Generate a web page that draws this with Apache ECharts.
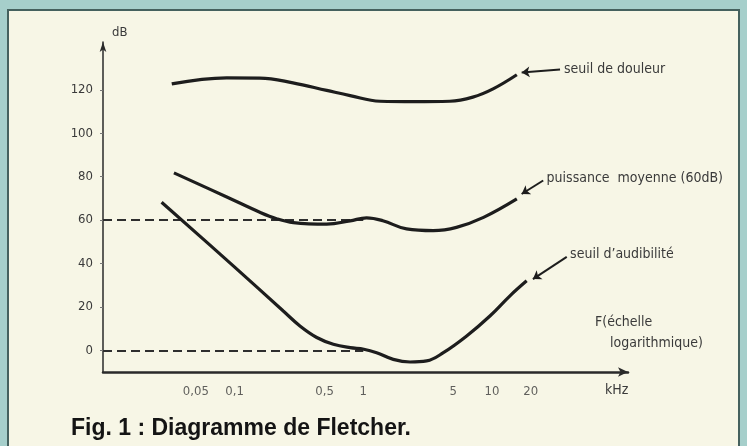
<!DOCTYPE html>
<html>
<head>
<meta charset="utf-8">
<script src="https://cdn.jsdelivr.net/npm/echarts@6/dist/echarts.min.js"></script>
<style>
  html, body { margin: 0; padding: 0; }
  #chart { width: 747px; height: 446px; }
</style>
</head>
<body>
<div id="chart"></div>
<script>
// Fletcher diagram: sound level (dB) against frequency (kHz, log scale)

// frequency axis range (kHz) and level axis range (dB)
const freqMin = 0.0095;
const freqMax = 114;
const dbMin = -10;
const dbMax = 142;

// tick labels
const xTickValues = [0.05, 0.1, 0.5, 1, 5, 10, 20];
const xTickLabels = ['0,05', '0,1', '0,5', '1', '5', '10', '20'];
const yTickValues = [0, 20, 40, 60, 80, 100, 120];

// seuil de douleur
const painFreq = [0.0325, 0.0868, 0.157, 0.284, 0.52, 0.79, 1.35, 2.5, 4.7, 7.1, 10.2, 15.6];
const painDb   = [122.7, 125.5, 125.4, 123.2, 119.7, 117.3, 114.7, 114.5, 114.7, 116.6, 120.4, 126.9];

// puissance moyenne (60 dB)
const speechFreq = [0.0338, 0.087, 0.157, 0.212, 0.286, 0.52, 0.79, 1.06, 1.42, 2.17, 3.5, 5.3, 8.6, 15.6];
const speechDb   = [81.7, 70.6, 63.6, 60.6, 58.8, 58.1, 59.6, 61.0, 59.7, 55.9, 55.1, 56.6, 61.2, 69.7];

// seuil d'audibilité
const hearFreq = [0.0271, 0.0977, 0.239, 0.322, 0.435, 0.585, 0.79, 1.01, 1.27, 1.71, 2.31, 3.11, 4.19, 6.36, 9.64, 13.8, 18.6];
const hearDb   = [68.2, 38.9, 18.1, 11.2, 5.9, 2.8, 1.2, 0.5, -1.1, -4.2, -5.4, -4.9, -1.1, 6.6, 15.8, 25.1, 32.0];

// curve names and their pointer arrows [from (near curve), to (near text)]
const curveNames = ['seuil de douleur', 'puissance  moyenne (60dB)', 'seuil d\u2019audibilit\u00e9'];
const pointerFrom = [[17.0, 128.0], [17.0, 72.0], [20.8, 32.8]];
const pointerTo   = [[33.8, 129.3], [25.0, 78.2], [38.1, 43.0]];

// 60 dB at 1 kHz and 0 dB at 1 kHz reference marks
const refFreq = 1;
const refLevels = [60, 0];

const zip = (xs, ys) => xs.map((x, i) => [x, ys[i]]);

const ink = '#1d1d1d';
const textInk = '#3a3a3a';
const letterFont = "'DejaVu Sans Condensed', 'Liberation Sans Narrow', 'DejaVu Sans', sans-serif";

function curve(name, xs, ys, idx) {
  return {
    type: 'line',
    name: name,
    data: zip(xs, ys),
    smooth: 0.4,
    showSymbol: false,
    lineStyle: { color: ink, width: 3.2 },
    z: 5,
    markLine: {
      silent: true,
      animation: false,
      symbol: ['arrow', 'none'],
      symbolSize: 8,
      lineStyle: { color: ink, width: 2, type: 'solid' },
      label: {
        show: true,
        position: 'end',
        distance: 4,
        formatter: curveNames[idx],
        color: textInk,
        fontSize: 14,
        fontFamily: letterFont
      },
      data: [[{ coord: pointerFrom[idx] }, { coord: pointerTo[idx] }]]
    }
  };
}

const chart = echarts.init(document.getElementById('chart'), null, { renderer: 'canvas' });

chart.setOption({
  animation: false,
  backgroundColor: '#a6cfcb',
  grid: { left: 103, right: 119, top: 42, bottom: 74 },
  xAxis: {
    type: 'log',
    logBase: 10,
    min: freqMin,
    max: freqMax,
    axisLine: {
      show: true,
      onZero: false,
      symbol: ['none', 'arrow'],
      symbolSize: [7, 10],
      lineStyle: { color: '#2a2a2a', width: 2.5 }
    },
    axisTick: { show: false },
    axisLabel: { show: false },
    splitLine: { show: false },
    minorTick: { show: false },
    minorSplitLine: { show: false }
  },
  yAxis: {
    type: 'value',
    min: dbMin,
    max: dbMax,
    axisLine: {
      show: true,
      onZero: false,
      symbol: ['none', 'arrow'],
      symbolSize: [5, 10],
      lineStyle: { color: '#2a2a2a', width: 1.5 }
    },
    axisTick: {
      show: true,
      customValues: yTickValues,
      length: 3,
      lineStyle: { color: '#777', width: 1 }
    },
    axisLabel: {
      customValues: yTickValues,
      margin: 10,
      color: textInk,
      fontSize: 13,
      fontFamily: letterFont
    },
    splitLine: { show: false }
  },
  graphic: [
    {
      type: 'rect',
      z: -100,
      shape: { x: 8, y: 10, width: 731, height: 445 },
      style: { fill: '#f7f6e6', stroke: '#45615e', lineWidth: 2 }
    },
    {
      type: 'text', left: 112, top: 26,
      style: { text: 'dB', fill: textInk, font: '13px ' + letterFont }
    },
    {
      type: 'text', left: 605, top: 383,
      style: { text: 'kHz', fill: textInk, font: '14px ' + letterFont }
    },
    {
      type: 'text', left: 595, top: 315,
      style: { text: 'F(\u00e9chelle', fill: textInk, font: '14px ' + letterFont }
    },
    {
      type: 'text', left: 610, top: 336,
      style: { text: 'logarithmique)', fill: textInk, font: '14px ' + letterFont }
    },
    {
      type: 'text', left: 71, top: 417,
      style: { text: 'Fig. 1 : Diagramme de Fletcher.', fill: '#141414', font: 'bold 23px "Liberation Sans", Arial, sans-serif' }
    }
  ],
  series: [
    curve('pain', painFreq, painDb, 0),
    curve('speech', speechFreq, speechDb, 1),
    curve('hearing', hearFreq, hearDb, 2),
    {
      // frequency tick labels along the bottom axis, plus the dashed reference marks
      type: 'scatter',
      data: xTickValues.map(v => [v, dbMin]),
      symbolSize: 1,
      itemStyle: { color: 'rgba(0,0,0,0)' },
      z: 3,
      label: {
        show: true,
        position: 'bottom',
        distance: 13,
        formatter: p => xTickLabels[p.dataIndex],
        color: textInk,
        fontSize: 13,
        fontFamily: letterFont
      },
      markLine: {
        silent: true,
        animation: false,
        symbol: ['none', 'none'],
        label: { show: false },
        lineStyle: { color: '#2e2e2e', width: 2, type: [9, 5] },
        data: refLevels.map(lv => [{ coord: [freqMin, lv] }, { coord: [refFreq, lv] }]).concat([
          [
            { coord: [refFreq, refLevels[0]], lineStyle: { width: 1.5, type: [7, 4] } },
            { coord: [refFreq, dbMin - 1.5] }
          ]
        ])
      }
    }
  ]
});
</script>
</body>
</html>
